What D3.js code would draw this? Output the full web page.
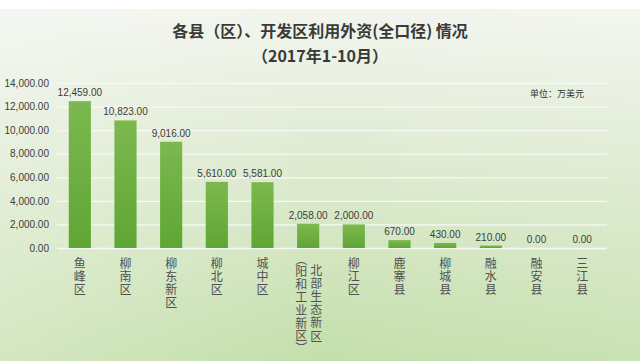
<!DOCTYPE html>
<html><head><meta charset="utf-8">
<script src="https://cdn.jsdelivr.net/npm/d3@7/dist/d3.min.js"></script>
<style>
html,body{margin:0;padding:0;background:#fff;}
svg{display:block;}
</style></head>
<body><svg id="c" width="640" height="361"></svg>
<script>
const categories = ["鱼峰区","柳南区","柳东新区","柳北区","城中区","北部生态新区（阳和工业新区）","柳江区","鹿寨县","柳城县","融水县","融安县","三江县"];
const values = [12459, 10823, 9016, 5610, 5581, 2058, 2000, 670, 430, 210, 0, 0];
const yTicks = [0, 2000, 4000, 6000, 8000, 10000, 12000, 14000];
const title1 = "各县（区）、开发区利用外资(全口径) 情况";
const title2 = "（2017年1-10月）";
const unitText = "单位：万美元";

const svg = d3.select("#c");
const W = 640, H = 361;
const defs = svg.append("defs");
const bg = defs.append("linearGradient").attr("id","bg").attr("x1",0).attr("y1",0).attr("x2",0).attr("y2",1);
bg.append("stop").attr("offset","0%").attr("stop-color","#f3f6f0");
bg.append("stop").attr("offset","30%").attr("stop-color","#e5eedb");
bg.append("stop").attr("offset","100%").attr("stop-color","#c4dfab");
const bgx = defs.append("linearGradient").attr("id","bgx").attr("x1",0).attr("y1",0).attr("x2",1).attr("y2",0);
bgx.append("stop").attr("offset","0%").attr("stop-color","#ffffff").attr("stop-opacity",0.25);
bgx.append("stop").attr("offset","50%").attr("stop-color","#ffffff").attr("stop-opacity",0);
bgx.append("stop").attr("offset","100%").attr("stop-color","#ffffff").attr("stop-opacity",0.1);
const bar = defs.append("linearGradient").attr("id","bar").attr("x1",0).attr("y1",0).attr("x2",0).attr("y2",1);
bar.append("stop").attr("offset","0%").attr("stop-color","#7cb84f");
bar.append("stop").attr("offset","100%").attr("stop-color","#5fa634");

svg.append("rect").attr("width",W).attr("height",H).attr("fill","url(#bg)");
svg.append("rect").attr("width",W).attr("height",H).attr("fill","url(#bgx)");
svg.append("rect").attr("width",W).attr("height",9).attr("fill","#ffffff");

const x = d3.scaleBand().domain(categories).range([57, 605]).paddingInner(0.515).paddingOuter(0.2575);
const y = d3.scaleLinear().domain([0, 14000]).range([248, 83]);

// gridlines
svg.append("g").selectAll("line").data(yTicks).join("line")
  .attr("x1",57).attr("x2",607)
  .attr("y1",d=>y(d)+0.5).attr("y2",d=>y(d)+0.5)
  .attr("stroke","#f7faf3").attr("stroke-width",1.3);

// y axis labels
const yAxis = d3.axisLeft(y).tickValues(yTicks).tickSize(0).tickPadding(0)
  .tickFormat(d3.format(",.2f"));
const ga = svg.append("g").attr("transform","translate(49,0)").call(yAxis);
ga.select(".domain").remove();
ga.selectAll("text").attr("font-family","'Liberation Sans Narrow','Liberation Sans',Arial,sans-serif")
  .attr("font-size",10).attr("fill","#3c3c3c");

// bars
svg.append("g").selectAll("rect").data(values).join("rect")
  .attr("x",(d,i)=>x(categories[i]))
  .attr("width",x.bandwidth())
  .attr("y",d=>y(d))
  .attr("height",d=>y(0)-y(d))
  .attr("fill","url(#bar)");

// value labels
svg.append("g").selectAll("text").data(values).join("text")
  .attr("x",(d,i)=>x(categories[i])+x.bandwidth()/2)
  .attr("y",d=>y(d)-5)
  .attr("text-anchor","middle")
  .attr("font-family","'Liberation Sans Narrow','Liberation Sans',Arial,sans-serif")
  .attr("font-size",10).attr("fill","#3c3c3c")
  .text(d=>d3.format(",.2f")(d));

// category labels (vertical)
const cg = svg.append("g");
categories.forEach((c,i)=>{
  const cx = x(c)+x.bandwidth()/2;
  let cols;
  const k = c.indexOf("（");
  if (k>0) cols = [{t:c.slice(0,k), dx:8, y0:264, ls:1.2}, {t:c.slice(k), dx:-7, y0:259, ls:0.8}];
  else cols = [{t:c, dx:0, y0:257, ls:1.2}];
  cols.forEach(col=>{
    cg.append("text")
      .attr("x",cx+col.dx).attr("y",col.y0)
      .style("writing-mode","vertical-rl")
      .style("font-feature-settings","'vhal' 1")
      .attr("letter-spacing",col.ls)
      .attr("font-family","'Noto Sans CJK SC',sans-serif")
      .attr("font-size",12).attr("fill","#505050")
      .text(col.t);
  });
});

// titles
svg.append("text").attr("x",320).attr("y",37).attr("text-anchor","middle")
  .attr("font-family","'Noto Sans CJK SC',sans-serif").attr("font-weight","bold")
  .attr("font-size",16).attr("fill","#3a3a3a").text(title1);
svg.append("text").attr("x",320).attr("y",62).attr("text-anchor","middle")
  .attr("font-family","'Noto Sans CJK SC',sans-serif").attr("font-weight","bold")
  .attr("font-size",16).attr("fill","#3a3a3a").text(title2);
svg.append("text").attr("x",530).attr("y",97)
  .attr("font-family","'Noto Sans CJK SC',sans-serif")
  .attr("font-size",9).attr("fill","#333").text(unitText);
</script></body></html>
